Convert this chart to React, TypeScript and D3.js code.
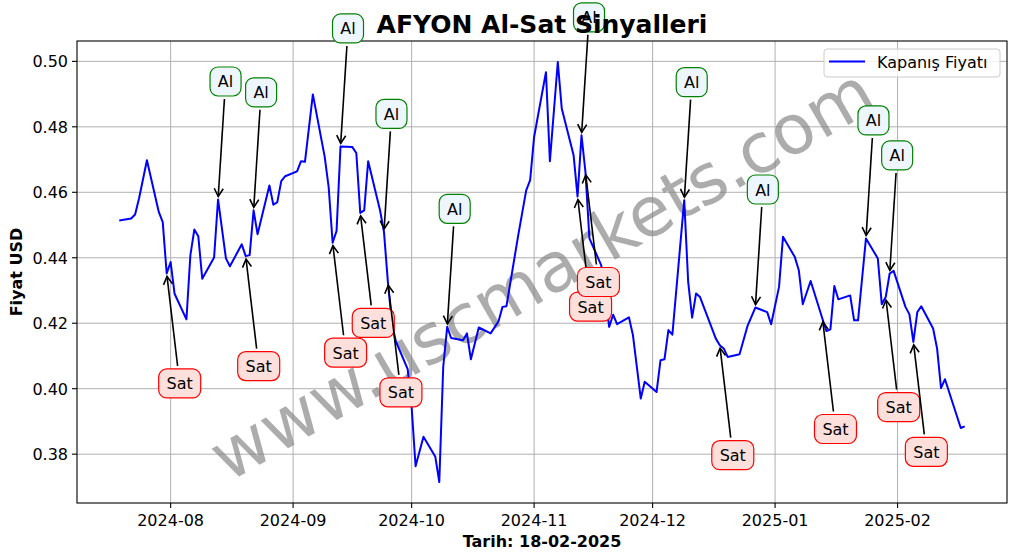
import React from "react";
import * as d3 from "d3";

const dates = [
  "2024-07-19","2024-07-22","2024-07-23","2024-07-24","2024-07-26","2024-07-29","2024-07-30","2024-07-31",
  "2024-08-01","2024-08-02","2024-08-05","2024-08-06","2024-08-07","2024-08-08","2024-08-09","2024-08-12",
  "2024-08-13","2024-08-15","2024-08-16","2024-08-19","2024-08-20","2024-08-21","2024-08-22","2024-08-23",
  "2024-08-26","2024-08-27","2024-08-28","2024-08-29","2024-08-30","2024-09-02","2024-09-03","2024-09-04",
  "2024-09-06","2024-09-09","2024-09-10","2024-09-11","2024-09-12","2024-09-13","2024-09-16","2024-09-17",
  "2024-09-18","2024-09-19","2024-09-20","2024-09-23","2024-09-24","2024-09-25","2024-09-26","2024-09-27",
  "2024-09-30","2024-10-01","2024-10-02","2024-10-04","2024-10-07","2024-10-08","2024-10-09","2024-10-10",
  "2024-10-11","2024-10-14","2024-10-15","2024-10-16","2024-10-18","2024-10-21","2024-10-23","2024-10-24",
  "2024-10-25","2024-10-28","2024-10-30","2024-10-31","2024-11-01","2024-11-04","2024-11-05","2024-11-07",
  "2024-11-08","2024-11-11","2024-11-12","2024-11-13","2024-11-14","2024-11-15","2024-11-18","2024-11-19",
  "2024-11-20","2024-11-21","2024-11-22","2024-11-25","2024-11-26","2024-11-28","2024-11-29","2024-12-02",
  "2024-12-03","2024-12-04","2024-12-05","2024-12-06","2024-12-09","2024-12-10","2024-12-11","2024-12-12",
  "2024-12-13","2024-12-17","2024-12-18","2024-12-19","2024-12-20","2024-12-23","2024-12-25","2024-12-27",
  "2024-12-30","2024-12-31","2025-01-02","2025-01-03","2025-01-06","2025-01-07","2025-01-08","2025-01-10",
  "2025-01-13","2025-01-14","2025-01-15","2025-01-16","2025-01-17","2025-01-20","2025-01-21","2025-01-22",
  "2025-01-24","2025-01-27","2025-01-28","2025-01-29","2025-01-30","2025-01-31","2025-02-03","2025-02-04",
  "2025-02-05","2025-02-06","2025-02-07","2025-02-10","2025-02-11","2025-02-12","2025-02-13","2025-02-17",
  "2025-02-18"
];

const closes = [
  0.4514,0.4520,0.4532,0.4581,0.4698,0.4540,0.4509,0.4352,
  0.4387,0.4290,0.4212,0.4408,0.4486,0.4466,0.4336,0.4401,
  0.4578,0.4398,0.4374,0.4441,0.4405,0.4408,0.4545,0.4472,
  0.4621,0.4562,0.4570,0.4634,0.4649,0.4664,0.4695,0.4693,
  0.4899,0.4708,0.4616,0.4446,0.4482,0.4740,0.4738,0.4720,
  0.4537,0.4545,0.4695,0.4545,0.4479,0.4325,0.4200,0.4145,
  0.4060,0.3944,0.3763,0.3853,0.3792,0.3715,0.4067,0.4189,
  0.4155,0.4148,0.4169,0.4090,0.4187,0.4169,0.4206,0.4250,
  0.4252,0.4470,0.4606,0.4637,0.4769,0.4967,0.4695,0.4998,
  0.4856,0.4713,0.4587,0.4774,0.4662,0.4459,0.4377,0.4286,
  0.4189,0.4226,0.4197,0.4218,0.4165,0.3970,0.4021,0.3990,
  0.4087,0.4090,0.4179,0.4165,0.4576,0.4326,0.4217,0.4291,
  0.4280,0.4153,0.4133,0.4123,0.4097,0.4105,0.4191,0.4248,
  0.4234,0.4197,0.4311,0.4464,0.4402,0.4362,0.4258,0.4329,
  0.4213,0.4176,0.4181,0.4314,0.4273,0.4285,0.4209,0.4209,
  0.4459,0.4398,0.4258,0.4280,0.4352,0.4360,0.4250,0.4227,
  0.4143,0.4234,0.4252,0.4184,0.4123,0.4002,0.4029,0.3880,
  0.3885
];

const buyDates = ["2024-08-13","2024-08-22","2024-09-13","2024-09-24","2024-10-10","2024-11-13","2024-12-09","2024-12-27","2025-01-24","2025-01-30"];
const sellDates = ["2024-07-31","2024-08-20","2024-09-11","2024-09-18","2024-09-25","2024-11-12","2024-11-14","2024-12-18","2025-01-13","2025-01-29","2025-02-05"];

const yTickValues = [0.38, 0.40, 0.42, 0.44, 0.46, 0.48, 0.50];
const xTickDates = ["2024-08-01","2024-09-01","2024-10-01","2024-11-01","2024-12-01","2025-01-01","2025-02-01"];
const xTickLabels = ["2024-08","2024-09","2024-10","2024-11","2024-12","2025-01","2025-02"];

const FONT = "DejaVu Sans, Verdana, sans-serif";

function Annotation({ px, py, kind }: { px: number; py: number; kind: "al" | "sat" }) {
  const isAl = kind === "al";
  const label = isAl ? "Al" : "Sat";
  const bw = isAl ? 31 : 42;
  const bh = 29;
  const bx = px + (isAl ? 7.5 : 13);
  const by = py + (isAl ? -118 : 110);
  let dx = px - bx, dy = py - by;
  const len = Math.hypot(dx, dy);
  dx /= len; dy /= len;
  const t = Math.min(bw / 2 / Math.max(Math.abs(dx), 1e-6), bh / 2 / Math.max(Math.abs(dy), 1e-6));
  const sx = bx + dx * (t + 3), sy = by + dy * (t + 3);
  const ex = px - dx * 3, ey = py - dy * 3;
  const hl = 8, hw = 4.5;
  const nx = -dy, ny = dx;
  const h1x = ex - dx * hl + nx * hw, h1y = ey - dy * hl + ny * hw;
  const h2x = ex - dx * hl - nx * hw, h2y = ey - dy * hl - ny * hw;
  return (
    <g>
      <line x1={sx} y1={sy} x2={ex} y2={ey} stroke="black" strokeWidth={1.6} />
      <path d={`M${h1x},${h1y} L${ex},${ey} L${h2x},${h2y}`} fill="none" stroke="black" strokeWidth={1.6} />
      <rect x={bx - bw / 2} y={by - bh / 2} width={bw} height={bh} rx={8} ry={8}
        fill={isAl ? "#eef6fd" : "#fde0dc"} stroke={isAl ? "green" : "red"} strokeWidth={1.2} />
      <text x={bx} y={by + 6} textAnchor="middle" fontSize={16} fontFamily={FONT} fill="black">{label}</text>
    </g>
  );
}

export default function App() {
  const W = 1017, H = 558;
  const left = 77, right = 1007, top = 41, bottom = 503;
  const parse = d3.utcParse("%Y-%m-%d");
  const data = dates.map((d, i) => ({ date: parse(d) as Date, v: closes[i] }));
  const t0 = data[0].date.getTime(), t1 = data[data.length - 1].date.getTime();
  const span = t1 - t0;
  const x = d3.scaleUtc().domain([new Date(t0 - 0.05 * span), new Date(t1 + 0.05 * span)]).range([left, right]);
  const vmin = d3.min(closes) as number, vmax = d3.max(closes) as number;
  const vs = vmax - vmin;
  const y = d3.scaleLinear().domain([vmin - 0.05 * vs, vmax + 0.05 * vs]).range([bottom, top]);
  const line = d3.line<{ date: Date; v: number }>().x(d => x(d.date)).y(d => y(d.v));
  const lookup = new Map(dates.map((d, i) => [d, data[i]]));
  const cx = (left + right) / 2, cy = (top + bottom) / 2;

  return (
    <svg width={W} height={H} style={{ position: "absolute", left: 0, top: 0, background: "white" }}>
      <rect x={0} y={0} width={W} height={H} fill="white" />
      <defs>
        <clipPath id="plotclip"><rect x={left} y={top} width={right - left} height={bottom - top} /></clipPath>
      </defs>
      {/* grid */}
      {xTickDates.map((d, i) => (
        <line key={"gx" + i} x1={x(parse(d) as Date)} x2={x(parse(d) as Date)} y1={top} y2={bottom} stroke="#b0b0b0" strokeWidth={1} />
      ))}
      {yTickValues.map((v, i) => (
        <line key={"gy" + i} x1={left} x2={right} y1={y(v)} y2={y(v)} stroke="#b0b0b0" strokeWidth={1} />
      ))}
      {/* watermark */}
      <text x={cx} y={cy + 2} transform={`rotate(-30 ${cx} ${cy + 2})`} textAnchor="middle" dominantBaseline="central"
        fontSize={69} fontFamily={FONT} fill="#808080" fillOpacity={0.65}>www.uscmarkets.com</text>
      {/* price line */}
      <path d={line(data) || ""} fill="none" stroke="#0000ff" strokeWidth={2} clipPath="url(#plotclip)" strokeLinejoin="round" />
      {/* spines */}
      <rect x={left} y={top} width={right - left} height={bottom - top} fill="none" stroke="black" strokeWidth={1.1} />
      {/* x ticks */}
      {xTickDates.map((d, i) => {
        const xx = x(parse(d) as Date);
        return (
          <g key={"xt" + i}>
            <line x1={xx} x2={xx} y1={bottom} y2={bottom + 5} stroke="black" strokeWidth={1.1} />
            <text x={xx} y={526} textAnchor="middle" fontSize={16} fontFamily={FONT} fill="black">{xTickLabels[i]}</text>
          </g>
        );
      })}
      {/* y ticks */}
      {yTickValues.map((v, i) => (
        <g key={"yt" + i}>
          <line x1={left - 5} x2={left} y1={y(v)} y2={y(v)} stroke="black" strokeWidth={1.1} />
          <text x={left - 9} y={y(v) + 6} textAnchor="end" fontSize={16} fontFamily={FONT} fill="black">{v.toFixed(2)}</text>
        </g>
      ))}
      {/* axis labels */}
      <text x={cx} y={547} textAnchor="middle" fontSize={16} fontWeight="bold" fontFamily={FONT} fill="black">Tarih: 18-02-2025</text>
      <text x={22} y={cy} transform={`rotate(-90 22 ${cy})`} textAnchor="middle" fontSize={16} fontWeight="bold" fontFamily={FONT} fill="black">Fiyat USD</text>
      {/* legend */}
      <rect x={824} y={49} width={176} height={28} rx={3} fill="white" fillOpacity={0.8} stroke="#cccccc" strokeWidth={1} />
      <line x1={829} x2={865} y1={61.5} y2={61.5} stroke="#0000ff" strokeWidth={2} />
      <text x={877} y={68} fontSize={16} fontFamily={FONT} fill="black">Kapanış Fiyatı</text>
      {/* annotations */}
      {sellDates.map((d, i) => {
        const p = lookup.get(d)!;
        return <Annotation key={"s" + i} px={x(p.date)} py={y(p.v)} kind="sat" />;
      })}
      {buyDates.map((d, i) => {
        const p = lookup.get(d)!;
        return <Annotation key={"b" + i} px={x(p.date)} py={y(p.v)} kind="al" />;
      })}
      {/* title */}
      <text x={cx} y={33} textAnchor="middle" fontSize={25} fontWeight="bold" fontFamily={FONT} fill="black">AFYON Al-Sat Sinyalleri</text>
    </svg>
  );
}
